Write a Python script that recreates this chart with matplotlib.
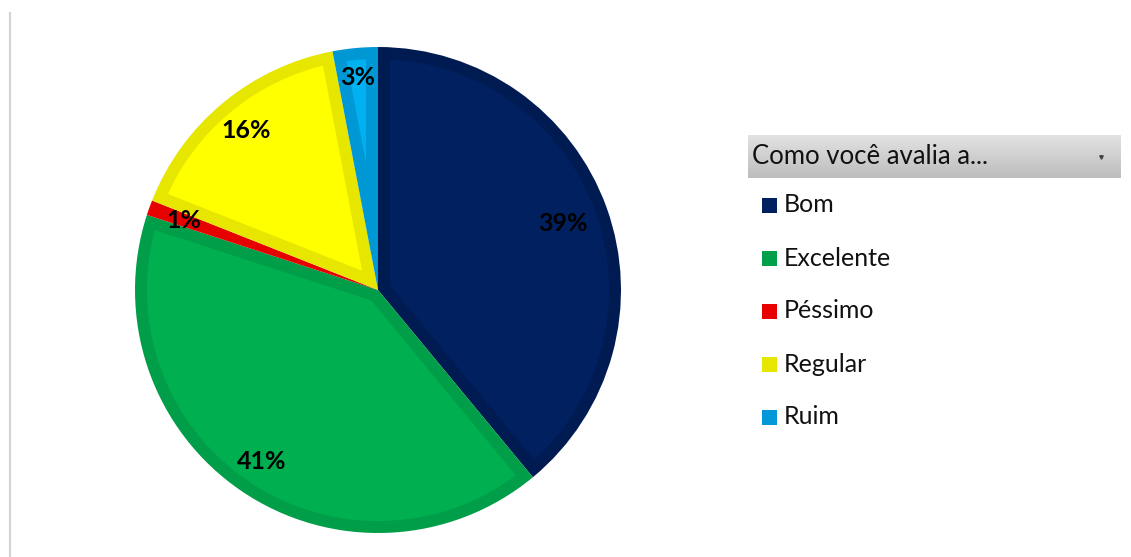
import matplotlib
matplotlib.use("Agg")
import matplotlib.pyplot as plt
import numpy as np
from matplotlib.patches import Rectangle, Polygon
from matplotlib.lines import Line2D
from matplotlib.colors import LinearSegmentedColormap

categories = ["Bom", "Excelente", "Péssimo", "Regular", "Ruim"]
values = [39, 41, 1, 16, 3]
fill_colors = ["#002060", "#00B050", "#E60000", "#FFFF00", "#00B0F0"]
edge_colors = ["#001A52", "#009E48", "#E60000", "#E6E600", "#0098D4"]
legend_colors = ["#002060", "#00A04A", "#E60000", "#E6E600", "#0098D8"]
header_text = "Como você avalia a..."
# radial position of each percentage label (fraction of radius)
label_dist = [0.81, 0.855, 0.85, 0.85, 0.88]

W, H = 1131, 557
fig = plt.figure(figsize=(W / 100, H / 100), dpi=100)
fig.patch.set_facecolor("white")
plt.rcParams["font.family"] = ["Lato", "DejaVu Sans"]

# left vertical rule
fig.add_artist(Line2D([9.5 / W, 9.5 / W], [0, 1 - 13 / H], transform=fig.transFigure,
                      color="#d4d4d4", lw=1.6))

cx, cy, r = 378, 290, 243
ax = fig.add_axes([(cx - r) / W, (H - cy - r) / H, 2 * r / W, 2 * r / H])
wedges, texts, autotexts = ax.pie(
    values, colors=edge_colors, startangle=90, counterclock=False,
    autopct=lambda p: f"{p:.0f}%", pctdistance=0.83,
    textprops=dict(fontsize=18, fontweight="bold", color="black"),
    wedgeprops=dict(linewidth=0, edgecolor="none"))
ax.set_xlim(-1, 1)
ax.set_ylim(-1, 1)
ax.axis("off")


def inset_wedge(theta1, theta2, R, d):
    """Polygon of the wedge (theta1..theta2 deg, ccw) shrunk inward by d."""
    t1, t2 = np.radians(theta1), np.radians(theta2)
    h = (t2 - t1) / 2
    if h <= 0 or np.sin(h) * (R - d) <= d:
        return None
    mid = t1 + h
    s = d / np.sin(h)
    A = np.array([s * np.cos(mid), s * np.sin(mid)])
    Ri = R - d
    pts = [A]
    angs = []
    for t in (t1, t2):
        u = np.array([np.cos(t), np.sin(t)])
        b = A @ u
        c = A @ A - Ri ** 2
        k = -b + np.sqrt(b * b - c)
        P = A + k * u
        angs.append(np.arctan2(P[1], P[0]))
    a1, a2 = angs
    if a2 < a1:
        a2 += 2 * np.pi
    arc = np.linspace(a1, a2, 120)
    pts += [np.array([Ri * np.cos(a), Ri * np.sin(a)]) for a in arc]
    return np.array(pts)


d = 12 / r
for w, fc in zip(wedges, fill_colors):
    poly = inset_wedge(w.theta1, w.theta2, 1.0, d)
    if poly is not None:
        ax.add_patch(Polygon(poly, closed=True, facecolor=fc, edgecolor="none",
                             zorder=w.get_zorder() + 0.1))
for w, t, dist in zip(wedges, autotexts, label_dist):
    mid = np.radians((w.theta1 + w.theta2) / 2)
    t.set_position((dist * np.cos(mid), dist * np.sin(mid)))
    t.set_zorder(5)

# legend header with gradient
hx0, hx1, hy0, hy1 = 748, 1121, 135, 178
hax = fig.add_axes([hx0 / W, (H - hy1) / H, (hx1 - hx0) / W, (hy1 - hy0) / H])
grad = np.linspace(0, 1, 64).reshape(-1, 1)
cmap = LinearSegmentedColormap.from_list("g", ["#e2e2e2", "#bdbdbd"])
hax.imshow(grad, aspect="auto", cmap=cmap, extent=[0, 1, 0, 1], origin="upper")
hax.set_xlim(0, 1)
hax.set_ylim(0, 1)
hax.axis("off")
hax.text(4 / (hx1 - hx0), 0.5, header_text, fontsize=18.5, va="center", ha="left",
         color="#111111", transform=hax.transAxes)
hax.plot([(1101 - hx0) / (hx1 - hx0)], [0.5], marker="v", color="#444444",
         markersize=2.5, transform=hax.transAxes)

# legend entries
y0, dy = 205, 53
for i, (cat, col) in enumerate(zip(categories, legend_colors)):
    y = y0 + i * dy
    fig.add_artist(Rectangle((762 / W, (H - y - 7.5) / H), 15 / W, 15 / H,
                             transform=fig.transFigure, facecolor=col, edgecolor="none"))
    fig.text(784 / W, (H - y) / H, cat, fontsize=18, va="center", ha="left", color="#111111")

fig.savefig("out.png", dpi=100)
